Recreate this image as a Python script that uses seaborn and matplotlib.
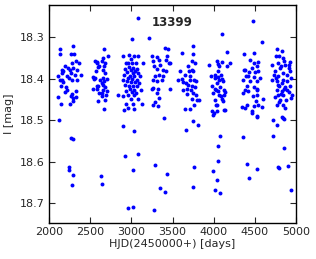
import pandas as pd
import matplotlib
matplotlib.use("Agg")
import matplotlib.pyplot as plt
import seaborn as sns

# =========================
# DATA (per observing season)
# =========================

star_id = "13399"

season1 = [(2134, 18.329), (2134, 18.340), (2288, 18.320), (2264, 18.339), (2304, 18.339),
           (2195, 18.370), (2276, 18.362), (2328, 18.358), (2369, 18.363), (2154, 18.378),
           (2174, 18.382), (2235, 18.374), (2256, 18.378), (2296, 18.374), (2337, 18.378),
           (2114, 18.394), (2134, 18.402), (2154, 18.402), (2215, 18.394), (2247, 18.398),
           (2276, 18.402), (2316, 18.390), (2385, 18.390), (2142, 18.418), (2215, 18.426),
           (2199, 18.432), (2114, 18.444), (2264, 18.442), (2288, 18.447), (2328, 18.443),
           (2142, 18.460), (2256, 18.460), (2296, 18.454), (2263, 18.386), (2154, 18.386),
           (2344, 18.402), (2166, 18.408), (2206, 18.420), (2275, 18.436), (2328, 18.430),
           (2122, 18.498), (2264, 18.542), (2296, 18.544), (2239, 18.611), (2239, 18.619),
           (2296, 18.632), (2276, 18.656)]

season2 = [(2669, 18.328), (2713, 18.346), (2559, 18.356), (2588, 18.362), (2640, 18.358),
           (2681, 18.362), (2612, 18.370), (2571, 18.382), (2661, 18.378), (2539, 18.395),
           (2547, 18.400), (2620, 18.402), (2661, 18.398), (2701, 18.400), (2640, 18.410),
           (2600, 18.416), (2531, 18.424), (2580, 18.424), (2661, 18.426), (2612, 18.434),
           (2640, 18.434), (2701, 18.430), (2640, 18.442), (2681, 18.450), (2600, 18.454),
           (2660, 18.350), (2669, 18.370), (2681, 18.386), (2669, 18.406), (2652, 18.414),
           (2681, 18.420), (2693, 18.438), (2579, 18.360), (2599, 18.372), (2559, 18.398),
           (2587, 18.418), (2669, 18.472), (2628, 18.635), (2648, 18.652)]

season3 = [(3078, 18.253), (3012, 18.305), (2903, 18.344), (2976, 18.342), (3033, 18.344),
           (3085, 18.344), (2992, 18.352), (2964, 18.362), (2935, 18.363), (3004, 18.363),
           (3057, 18.363), (3138, 18.363), (2923, 18.376), (2976, 18.371), (3024, 18.374),
           (3065, 18.376), (2992, 18.379), (3045, 18.382), (2952, 18.384), (3016, 18.387),
           (3085, 18.386), (2911, 18.390), (2984, 18.392), (3033, 18.394), (3106, 18.392),
           (2964, 18.398), (3004, 18.400), (3065, 18.402), (2895, 18.403), (2944, 18.406),
           (2992, 18.408), (3045, 18.408), (3097, 18.410), (2923, 18.414), (2976, 18.416),
           (3024, 18.416), (3073, 18.418), (2984, 18.424), (3033, 18.426), (3114, 18.426),
           (2935, 18.430), (3004, 18.432), (3057, 18.434), (2964, 18.438), (2895, 18.442),
           (3033, 18.440), (2842, 18.440), (2992, 18.448), (3085, 18.448), (2935, 18.460),
           (3024, 18.460), (3126, 18.460), (2964, 18.470), (2912, 18.474), (3033, 18.472),
           (2904, 18.514), (3037, 18.525), (2924, 18.586), (3078, 18.581), (3017, 18.619),
           (2960, 18.711), (3021, 18.708)]

season4 = [(3215, 18.301), (3247, 18.344), (3308, 18.347), (3409, 18.326), (3450, 18.328),
           (3430, 18.344), (3268, 18.358), (3340, 18.355), (3421, 18.354), (3462, 18.362),
           (3276, 18.368), (3349, 18.366), (3316, 18.376), (3381, 18.378), (3421, 18.382),
           (3288, 18.394), (3340, 18.390), (3389, 18.394), (3259, 18.402), (3316, 18.406),
           (3369, 18.402), (3268, 18.422), (3247, 18.424), (3328, 18.424), (3308, 18.434),
           (3340, 18.446), (3288, 18.456), (3259, 18.464), (3328, 18.466), (3397, 18.494),
           (3292, 18.608), (3353, 18.663), (3413, 18.672), (3437, 18.629), (3276, 18.716)]

season5 = [(3470, 18.362), (3470, 18.424), (3620, 18.337), (3754, 18.321), (3745, 18.341),
           (3733, 18.358), (3774, 18.363), (3693, 18.370), (3733, 18.378), (3592, 18.382),
           (3652, 18.390), (3571, 18.402), (3632, 18.408), (3713, 18.402), (3762, 18.402),
           (3693, 18.414), (3733, 18.418), (3624, 18.426), (3672, 18.424), (3721, 18.427),
           (3774, 18.419), (3786, 18.438), (3733, 18.448), (3826, 18.450), (3762, 18.462),
           (3754, 18.382), (3664, 18.410), (3713, 18.392), (3786, 18.406), (3681, 18.436),
           (3745, 18.434), (3794, 18.452), (3705, 18.380), (3612, 18.400),
           (3652, 18.472), (3713, 18.472), (3745, 18.502), (3810, 18.512), (3664, 18.523),
           (3762, 18.611), (3745, 18.660)]

season6 = [(4106, 18.293), (4159, 18.336), (3948, 18.366), (4037, 18.358), (4098, 18.360),
           (4199, 18.362), (4069, 18.370), (4167, 18.368), (4017, 18.390), (3964, 18.394),
           (4069, 18.402), (4098, 18.400), (4118, 18.406), (4037, 18.410), (3976, 18.418),
           (4017, 18.424), (4078, 18.419), (4126, 18.426), (3996, 18.434), (4069, 18.438),
           (4098, 18.448), (4118, 18.454), (4029, 18.464), (3976, 18.478), (4130, 18.474),
           (4058, 18.364), (4058, 18.380), (4017, 18.398), (4050, 18.396), (4086, 18.390),
           (4029, 18.428), (4139, 18.432), (4050, 18.430), (4086, 18.442), (4017, 18.450),
           (4119, 18.440), (4045, 18.462),
           (3996, 18.486), (4005, 18.482), (4045, 18.478), (4134, 18.476), (4078, 18.537),
           (4057, 18.562), (4057, 18.598), (3997, 18.622), (4037, 18.643), (4017, 18.667),
           (4078, 18.675)]

season7 = [(4474, 18.260), (4584, 18.311), (4369, 18.341), (4491, 18.337), (4442, 18.354),
           (4483, 18.362), (4531, 18.370), (4381, 18.378), (4462, 18.374), (4434, 18.384),
           (4543, 18.382), (4393, 18.394), (4491, 18.395), (4361, 18.402), (4442, 18.406),
           (4531, 18.406), (4410, 18.416), (4483, 18.419), (4353, 18.434), (4422, 18.430),
           (4474, 18.442), (4531, 18.438), (4604, 18.448), (4515, 18.454), (4402, 18.464),
           (4543, 18.360), (4503, 18.384), (4564, 18.398), (4523, 18.424), (4531, 18.426),
           (4543, 18.462), (4584, 18.468), (4362, 18.378), (4422, 18.394), (4382, 18.426),
           (4382, 18.470),
           (4483, 18.466), (4341, 18.468), (4462, 18.478), (4531, 18.490), (4462, 18.481),
           (4531, 18.492), (4353, 18.540), (4410, 18.604), (4531, 18.617), (4430, 18.639)]

season8 = [(4766, 18.329), (4827, 18.333), (4758, 18.346), (4847, 18.350), (4928, 18.360),
           (4786, 18.362), (4867, 18.366), (4705, 18.366), (4807, 18.374), (4908, 18.374),
           (4746, 18.382), (4847, 18.386), (4928, 18.382), (4786, 18.392), (4705, 18.402),
           (4766, 18.406), (4839, 18.402), (4887, 18.406), (4798, 18.416), (4867, 18.419),
           (4928, 18.418), (4766, 18.426), (4827, 18.430), (4887, 18.427), (4786, 18.438),
           (4847, 18.440), (4948, 18.438), (4746, 18.443), (4807, 18.450), (4879, 18.450),
           (4796, 18.346), (4857, 18.356), (4908, 18.366), (4817, 18.368), (4726, 18.390),
           (4888, 18.390), (4756, 18.398), (4827, 18.410), (4938, 18.398), (4776, 18.414),
           (4857, 18.424), (4908, 18.432), (4817, 18.436), (4938, 18.446), (4797, 18.456),
           (4847, 18.462),
           (4766, 18.464), (4867, 18.470), (4827, 18.492), (4847, 18.494), (4717, 18.498),
           (4774, 18.512), (4855, 18.496), (4725, 18.537), (4859, 18.566), (4778, 18.611),
           (4798, 18.614), (4900, 18.610), (4944, 18.667)]

x_ticks = [2000, 2500, 3000, 3500, 4000, 4500, 5000]
y_ticks = [18.3, 18.4, 18.5, 18.6, 18.7]

# =========================
# BUILD TABLE
# =========================

seasons = [season1, season2, season3, season4, season5, season6, season7, season8]
rows = [p for s in seasons for p in s]
df = pd.DataFrame(rows, columns=["hjd", "mag"])

# =========================
# PLOT
# =========================

sns.set_style("ticks")
plt.rcParams["font.family"] = ["DejaVu Sans"]
plt.rcParams["xtick.direction"] = "in"
plt.rcParams["ytick.direction"] = "in"

fig = plt.figure(figsize=(3.16, 2.59), dpi=100)
ax = fig.add_axes([0.155, 0.139, 0.782, 0.842])

sns.scatterplot(data=df, x="hjd", y="mag", color="blue", s=8, linewidth=0, ax=ax)

ax.set_xlim(2000, 5000)
ax.set_ylim(18.747, 18.222)
ax.set_xticks(x_ticks)
ax.set_yticks(y_ticks)
ax.set_yticklabels([f"{v:.1f}" for v in y_ticks])
ax.tick_params(labelsize=8, length=4, width=0.8, top=True, right=True, pad=3)
for sp in ax.spines.values():
    sp.set_visible(True)
    sp.set_color("black")
    sp.set_linewidth(1.0)

ax.set_xlabel("HJD(2450000+) [days]", fontsize=8, labelpad=1)
ax.set_ylabel("I [mag]", fontsize=8, labelpad=4)
ax.text(0.5, 0.92, star_id, transform=ax.transAxes, ha="center", va="center",
        fontsize=8.5, fontweight="bold")

fig.savefig("out.png", dpi=100)
